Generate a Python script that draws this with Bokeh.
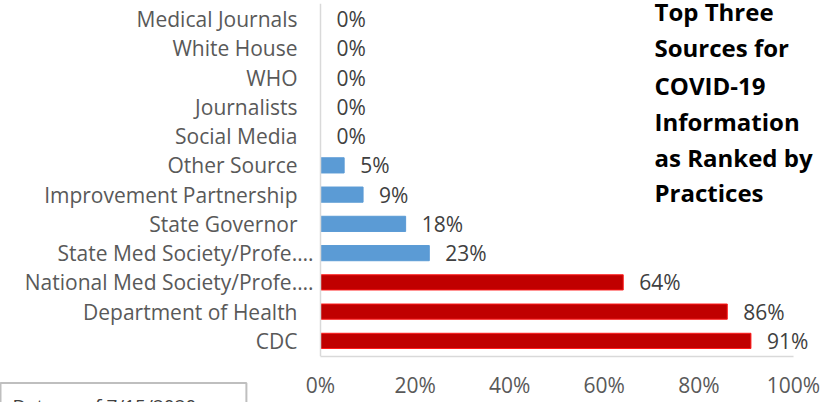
from bokeh.plotting import figure
from bokeh.models import ColumnDataSource, FactorRange, LabelSet, Label, FixedTicker, Range1d, Span, Title
from bokeh.core.properties import value
from bokeh.embed import file_html
from bokeh.resources import INLINE

# ---- data (bottom to top) ----
categories = ["CDC", "Department of Health", "National Med Society/Profe\u2026.",
              "State Med Society/Profe\u2026.", "State Governor", "Improvement Partnership",
              "Other Source", "Social Media", "Journalists", "WHO", "White House",
              "Medical Journals"]
values = [91, 86, 64, 23, 18, 9, 5, 0, 0, 0, 0, 0]
top_three = [True, True, True, False, False, False, False, False, False, False, False, False]
tick_values = [0, 20, 40, 60, 80, 100]
tick_labels = ["0%", "20%", "40%", "60%", "80%", "100%"]
title_lines = ["Top Three", "Sources for", "COVID-19", "Information", "as Ranked by", "Practices"]
note_text = "Data as of 7/15/2020"

RED, RED_EDGE, BLUE = "#C00000", "#FF1A1A", "#5B9BD5"
FONT = "Open Sans"

# layout: frame spans the full width; value 0 sits at x=320 px, 100 at 793 px
W, H = 821, 402
X0_PX, X100_PX = 320, 793
ppu = (X100_PX - X0_PX) / 100.0

src = ColumnDataSource(dict(
    cat=categories,
    val=values,
    fill=[RED if t else BLUE for t in top_three],
    edge=[RED_EDGE if t else BLUE for t in top_three],
    pct=[f"{v}%" for v in values],
    lab_off=[-7 if c.endswith("\u2026.") else -23 for c in categories],
))

p = figure(width=W, height=H,
           y_range=FactorRange(*categories, range_padding=0.034, range_padding_units="absolute"),
           x_range=Range1d(-X0_PX / ppu, (W - X0_PX) / ppu),
           output_backend="svg", toolbar_location=None,
           min_border_left=0, min_border_right=0, min_border_top=3, min_border_bottom=43)
p.outline_line_color = None
p.background_fill_color = "white"
p.border_fill_color = "white"
p.xgrid.visible = False
p.ygrid.visible = False
p.yaxis.visible = False

# vertical category axis line
p.add_layout(Span(location=0, dimension="height", line_color="#D9D9D9", line_width=1.5))

p.hbar(y="cat", right="val", left=0, height=0.52, source=src,
       fill_color="fill", line_color="edge", line_width=1)

# x axis
p.xaxis.ticker = FixedTicker(ticks=tick_values)
p.xaxis.bounds = (0, 100)
p.xaxis.major_label_overrides = {v: l for v, l in zip(tick_values, tick_labels)}
p.xaxis.axis_line_color = "#D9D9D9"
p.xaxis.axis_line_width = 1.5
p.xaxis.major_tick_line_color = None
p.xaxis.minor_tick_line_color = None
p.xaxis.major_tick_out = 0
p.xaxis.minor_tick_out = 0
p.xaxis.major_label_text_font = FONT
p.xaxis.major_label_text_font_size = "21px"
p.xaxis.major_label_text_color = "#595959"
p.xaxis.major_label_standoff = 14

# category labels
p.add_layout(LabelSet(x=0, y="cat", text="cat", x_offset="lab_off", source=src,
                      text_align="right", text_baseline="middle",
                      text_font=value(FONT), text_font_size="21px", text_color="#595959"))
# value labels
p.add_layout(LabelSet(x="val", y="cat", text="pct", x_offset=16, source=src,
                      text_align="left", text_baseline="middle",
                      text_font=value(FONT), text_font_size="21px", text_color="#404040"))

# title block (screen units relative to frame bottom-left; frame bottom at y=359 px)
title_y = [14, 50, 88, 124, 160, 195]
for line, cy in zip(title_lines, title_y):
    p.add_layout(Label(x=654, y=359 - cy, x_units="screen", y_units="screen",
                       text=line, text_font=FONT, text_font_style="bold",
                       text_font_size="24px", text_color="black",
                       text_align="left", text_baseline="middle"))

# note box at the bottom-left, mostly below the visible area
note = Title(text=note_text, align="left", offset=0, standoff=-37, vertical_align="top",
             text_font=FONT, text_font_size="19px", text_font_style="normal",
             text_color="#404040", border_line_color="#BFBFBF", border_line_width=2,
             padding=dict(left=12, right=50, top=10, bottom=0))
p.add_layout(note, "below")

open("out.html", "w").write(file_html(p, INLINE))
